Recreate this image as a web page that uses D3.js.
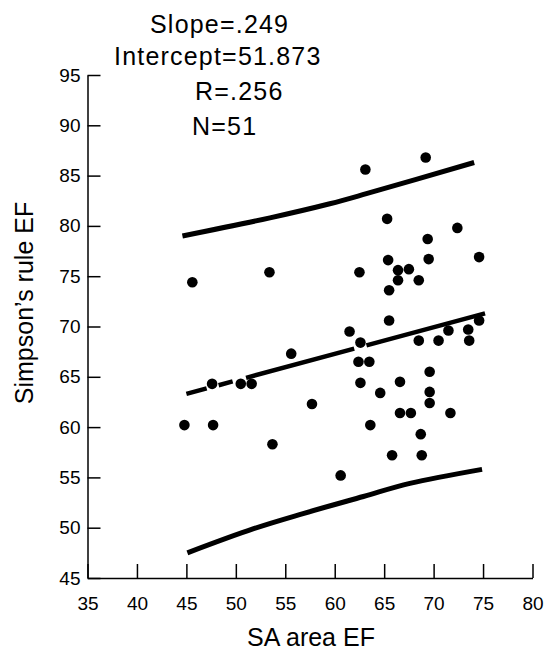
<!DOCTYPE html>
<html>
<head>
<meta charset="utf-8">
<script src="https://cdn.jsdelivr.net/npm/d3@7"></script>
<style>
	body { margin: 0; background: #fff; }
	.axis path, .axis line { stroke: #000; stroke-width: 1.5px; }
	.axis text { font-family: "Liberation Sans", Arial, sans-serif; font-size: 19px; fill: #000; }
</style>
</head>
<body>
<svg id="mainSVG" width="549" height="654"></svg>
<script>
// Valores
var efSA = [63.1, 69.2, 65.3, 72.4, 69.4, 65.4, 69.5, 74.6, 62.5, 66.4, 67.5, 66.4, 68.5, 65.5, 65.5,
	61.5, 62.6, 68.5, 70.5, 71.5, 73.5, 73.6, 74.6, 62.4, 63.5, 69.6, 62.6, 66.6, 64.6, 69.6, 69.6,
	66.6, 67.7, 71.7, 63.6, 68.7, 65.8, 68.8, 60.6, 55.6, 47.6, 50.5, 51.6, 57.7, 44.8, 47.7, 53.7,
	45.6, 53.4];
var efSimpson = [85.6, 86.8, 80.7, 79.8, 78.7, 76.6, 76.7, 76.9, 75.4, 75.6, 75.7, 74.6, 74.6, 73.6, 70.6,
	69.5, 68.4, 68.6, 68.6, 69.6, 69.7, 68.6, 70.6, 66.5, 66.5, 65.5, 64.4, 64.5, 63.4, 63.5, 62.4,
	61.4, 61.4, 61.4, 60.2, 59.3, 57.2, 57.2, 55.2, 67.3, 64.3, 64.3, 64.3, 62.3, 60.2, 60.2, 58.3,
	74.4, 75.4];

var fitX = [45, 75.2];
var fitY = [63.3, 71.3];
var upperX = [44.6, 53.45, 59.5, 63.2, 74.1];
var upperY = [79.0, 80.8, 82.2, 83.2, 86.3];
var lowerX = [45.1, 51.8, 56.8, 62.9, 67.6, 74.9];
var lowerY = [47.5, 49.9, 51.4, 53.1, 54.4, 55.8];

var xTicks = [35, 40, 45, 50, 55, 60, 65, 70, 75, 80];
var yTicks = [45, 50, 55, 60, 65, 70, 75, 80, 85, 90, 95];
var statLabels = ["Slope=.249", "Intercept=51.873", "R=.256", "N=51"];

var mainSVG = d3.select("#mainSVG");
var fonte = "'Liberation Sans', Arial, sans-serif";

// Escalas
var xScale = d3.scaleLinear().domain([35, 80]).range([87.5, 532.5]);
var yScale = d3.scaleLinear().domain([45, 95]).range([578, 75]);

// Eixos (ticks para dentro)
var xAxis = d3.axisBottom(xScale).tickValues(xTicks).tickSize(-14).tickSizeOuter(0).tickPadding(19);
mainSVG.append("g")
	.attr("class", "axis")
	.attr("transform", "translate(0," + yScale(45) + ")")
	.call(xAxis);

var yAxis = d3.axisLeft(yScale).tickValues(yTicks).tickSize(-13).tickSizeOuter(0).tickPadding(7);
mainSVG.append("g")
	.attr("class", "axis")
	.attr("transform", "translate(" + xScale(35) + ",0)")
	.call(yAxis);

// Titulos dos eixos
mainSVG.append("text")
	.attr("x", 311)
	.attr("y", 646)
	.attr("text-anchor", "middle")
	.attr("font-family", fonte)
	.style("font-size", "25px")
	.text("SA area EF");

mainSVG.append("text")
	.attr("transform", "translate(33,303) rotate(-90)")
	.attr("text-anchor", "middle")
	.attr("font-family", fonte)
	.style("font-size", "25px")
	.text("Simpson\u2019s rule EF");

// Estatisticas
var statPos = [[150, 33], [114, 65], [195, 100], [192, 135]];
mainSVG.selectAll(".stat")
	.data(statLabels)
	.enter().append("text")
	.attr("class", "stat")
	.attr("x", function(d, i) { return statPos[i][0]; })
	.attr("y", function(d, i) { return statPos[i][1]; })
	.attr("font-family", fonte)
	.style("font-size", "25px")
	.style("letter-spacing", "1.2px")
	.text(function(d) { return d; });

// Linhas: regressao e bandas
var line = d3.line()
	.x(function(d) { return xScale(d[0]); })
	.y(function(d) { return yScale(d[1]); })
	.curve(d3.curveCatmullRom);

mainSVG.append("path")
	.datum(d3.zip(upperX, upperY))
	.attr("d", line)
	.attr("fill", "none")
	.attr("stroke", "#000")
	.attr("stroke-width", 5);

mainSVG.append("path")
	.datum(d3.zip(lowerX, lowerY))
	.attr("d", line)
	.attr("fill", "none")
	.attr("stroke", "#000")
	.attr("stroke-width", 5);

mainSVG.append("path")
	.datum(d3.zip(fitX, fitY))
	.attr("d", line)
	.attr("fill", "none")
	.attr("stroke", "#000")
	.attr("stroke-width", 4.5)
	.attr("stroke-dasharray", "21,12.4,14.5,13.9,112,12.7,400");

// Pontos
mainSVG.selectAll(".ponto")
	.data(d3.zip(efSA, efSimpson))
	.enter().append("circle")
	.attr("class", "ponto")
	.attr("cx", function(d) { return xScale(d[0]); })
	.attr("cy", function(d) { return yScale(d[1]); })
	.attr("r", 5.3)
	.attr("fill", "#000");
</script>
</body>
</html>
